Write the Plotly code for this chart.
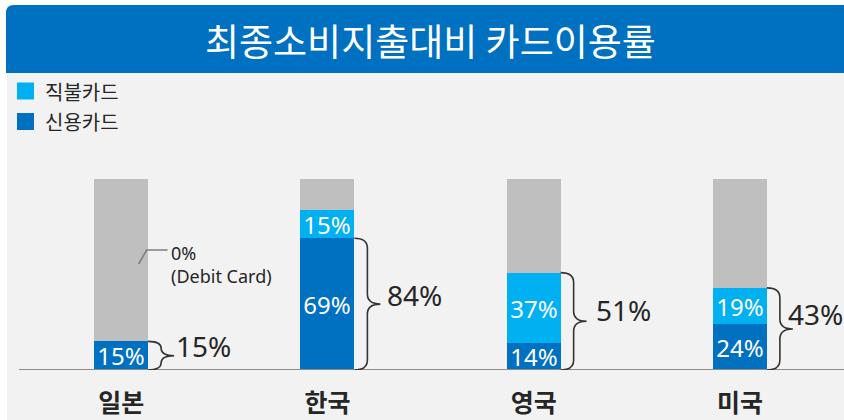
import plotly.graph_objects as go

# ---------------- data ----------------
categories = ["일본", "한국", "영국", "미국"]
credit = [15, 69, 14, 24]      # 신용카드 (%)
debit = [0, 15, 37, 19]        # 직불카드 (%)
title_text = "최종소비지출대비 카드이용률"
credit_name = "신용카드"
debit_name = "직불카드"
debit_note = "0%<br>(Debit Card)"

# ---------------- style ----------------
KR = "Noto Sans CJK KR"
LAT = "Noto Sans, Noto Sans CJK KR"
C_CREDIT = "#0070c0"
C_DEBIT = "#00b0f0"
C_REST = "#bfbfbf"
C_BG = "#f2f2f2"
C_TXT = "#262626"
W, H = 844, 420
ML, MR, MT, MB = 18, 1, 0, 50
PW, PH = W - ML - MR, H - MT - MB
PX_PER_UNIT = 1.91             # vertical pixels per percentage point
YMAX = PH / PX_PER_UNIT
BAR_W = 0.262
BRACE_SPAN = ["credit", "credit", "total", "total"]  # which stack part each brace covers
LABEL_DX = [26, 31, 33, 19]    # total label offset (px) from bar right edge
LABEL_DY = [10, 9, 11, 15]     # total label lift (px) above brace tip


def sx(p):
    """screen x pixel -> paper x"""
    return (p - ML) / PW


def sy(p):
    """screen y pixel -> paper y"""
    return (H - MB - p) / PH


def dy(p):
    """screen y pixel -> data y"""
    return (H - MB - p) / PX_PER_UNIT


xs = list(range(len(categories)))
totals = [c + d for c, d in zip(credit, debit)]
rest = [100 - t for t in totals]

fig = go.Figure()
fig.add_trace(go.Bar(
    x=xs, y=credit, name=credit_name, marker=dict(color=C_CREDIT, line=dict(width=0)),
    width=BAR_W, text=[f"{v}%" for v in credit], textposition="inside",
    insidetextanchor="middle", textfont=dict(color="white", size=24, family=LAT),
    hoverinfo="skip", showlegend=False))
fig.add_trace(go.Bar(
    x=xs, y=debit, name=debit_name, marker=dict(color=C_DEBIT, line=dict(width=0)),
    width=BAR_W, text=[f"{v}%" if v > 0 else "" for v in debit], textposition="inside",
    insidetextanchor="middle", textfont=dict(color="white", size=24, family=LAT),
    hoverinfo="skip", showlegend=False))
fig.add_trace(go.Bar(
    x=xs, y=rest, name="", marker=dict(color=C_REST, line=dict(width=0)),
    width=BAR_W, showlegend=False, hoverinfo="skip", textposition="none"))

shapes = []
annotations = []

# grey panel
shapes.append(dict(type="rect", xref="paper", yref="paper", layer="below",
                   x0=sx(7), x1=sx(W + 5), y0=sy(H + 5), y1=sy(5),
                   fillcolor=C_BG, line=dict(width=0)))
# title bar with rounded top-left corner
x0, x1, y0, y1, rr = sx(6), sx(W + 5), sy(73), sy(5), 8
shapes.append(dict(
    type="path", xref="paper", yref="paper", layer="below",
    path=(f"M{x0},{y0} L{x0},{sy(5 + rr)} Q{x0},{y1} {sx(6 + rr)},{y1} "
          f"L{x1},{y1} L{x1},{y0} Z"),
    fillcolor=C_CREDIT, line=dict(width=0)))
annotations.append(dict(xref="paper", yref="paper", x=sx(430), y=sy(40),
                        text=title_text, showarrow=False, xanchor="center", yanchor="middle",
                        font=dict(family=KR, size=37, color="white")))

# legend (drawn)
for name, color, yc in [(debit_name, C_DEBIT, 91), (credit_name, C_CREDIT, 121.5)]:
    shapes.append(dict(type="rect", xref="paper", yref="paper",
                       x0=sx(17), x1=sx(34), y0=sy(yc + 8.5), y1=sy(yc - 8.5),
                       fillcolor=color, line=dict(width=0)))
    annotations.append(dict(xref="paper", yref="paper", x=sx(43), y=sy(yc),
                            text=name, showarrow=False, xanchor="left", yanchor="middle",
                            font=dict(family=KR, size=20, color=C_TXT)))

# baseline
shapes.append(dict(type="line", xref="paper", yref="y", x0=sx(19), x1=sx(W + 5),
                   y0=0, y1=0, line=dict(color="#8c8c8c", width=2)))

# braces and totals
for i, (t, c) in enumerate(zip(totals, credit)):
    top = c if BRACE_SPAN[i] == "credit" else t
    bot = 0
    mid = (top + bot) / 2
    r = min(10 / PX_PER_UNIT, (top - bot) / 4)
    path = (f"M0,{top} Q13,{top} 13,{top - r} L13,{mid + r} Q13,{mid} 26,{mid} "
            f"Q13,{mid} 13,{mid - r} L13,{bot + r} Q13,{bot} 0,{bot}")
    shapes.append(dict(type="path", xref="x", yref="y", xsizemode="pixel",
                       xanchor=i + BAR_W / 2, path=path,
                       line=dict(color="#333333", width=1.6)))
    annotations.append(dict(x=i + BAR_W / 2, y=mid, xref="x", yref="y",
                            xshift=LABEL_DX[i], yshift=LABEL_DY[i],
                            text=f"{t}%", showarrow=False, xanchor="left", yanchor="middle",
                            font=dict(family=LAT, size=28, color=C_TXT)))

# zero-debit note for first bar
shapes.append(dict(type="path", xref="x", yref="y", xsizemode="pixel", xanchor=0,
                   path=f"M17.5,{dy(264)} L25.5,{dy(250)} L46.5,{dy(250)}",
                   line=dict(color="#7f7f7f", width=1.6)))
annotations.append(dict(x=0, y=dy(264), xref="x", yref="y", xshift=48,
                        text=debit_note, showarrow=False, xanchor="left", yanchor="middle",
                        align="left", font=dict(family=LAT, size=18, color=C_TXT)))

fig.update_layout(
    width=W, height=H, autosize=False,
    margin=dict(l=ML, r=MR, t=MT, b=MB, pad=0),
    paper_bgcolor="white", plot_bgcolor="rgba(0,0,0,0)",
    barmode="stack", bargap=0,
    shapes=shapes, annotations=annotations,
    uniformtext=dict(minsize=24, mode="show"),
    showlegend=False,
    xaxis=dict(range=[-0.5, len(categories) - 0.5], tickvals=xs, ticktext=categories,
               showgrid=False, zeroline=False, showline=False, ticks="",
               ticklabelstandoff=16,
               tickfont=dict(family=KR, size=25, color=C_TXT, weight="bold")),
    yaxis=dict(range=[0, YMAX], visible=False, showgrid=False, zeroline=False),
    font=dict(family=KR),
)

fig.write_html(
    "out.html",
    config={"displayModeBar": False},
    post_script="document.body.style.margin='0px';document.body.style.overflow='hidden';",
)
